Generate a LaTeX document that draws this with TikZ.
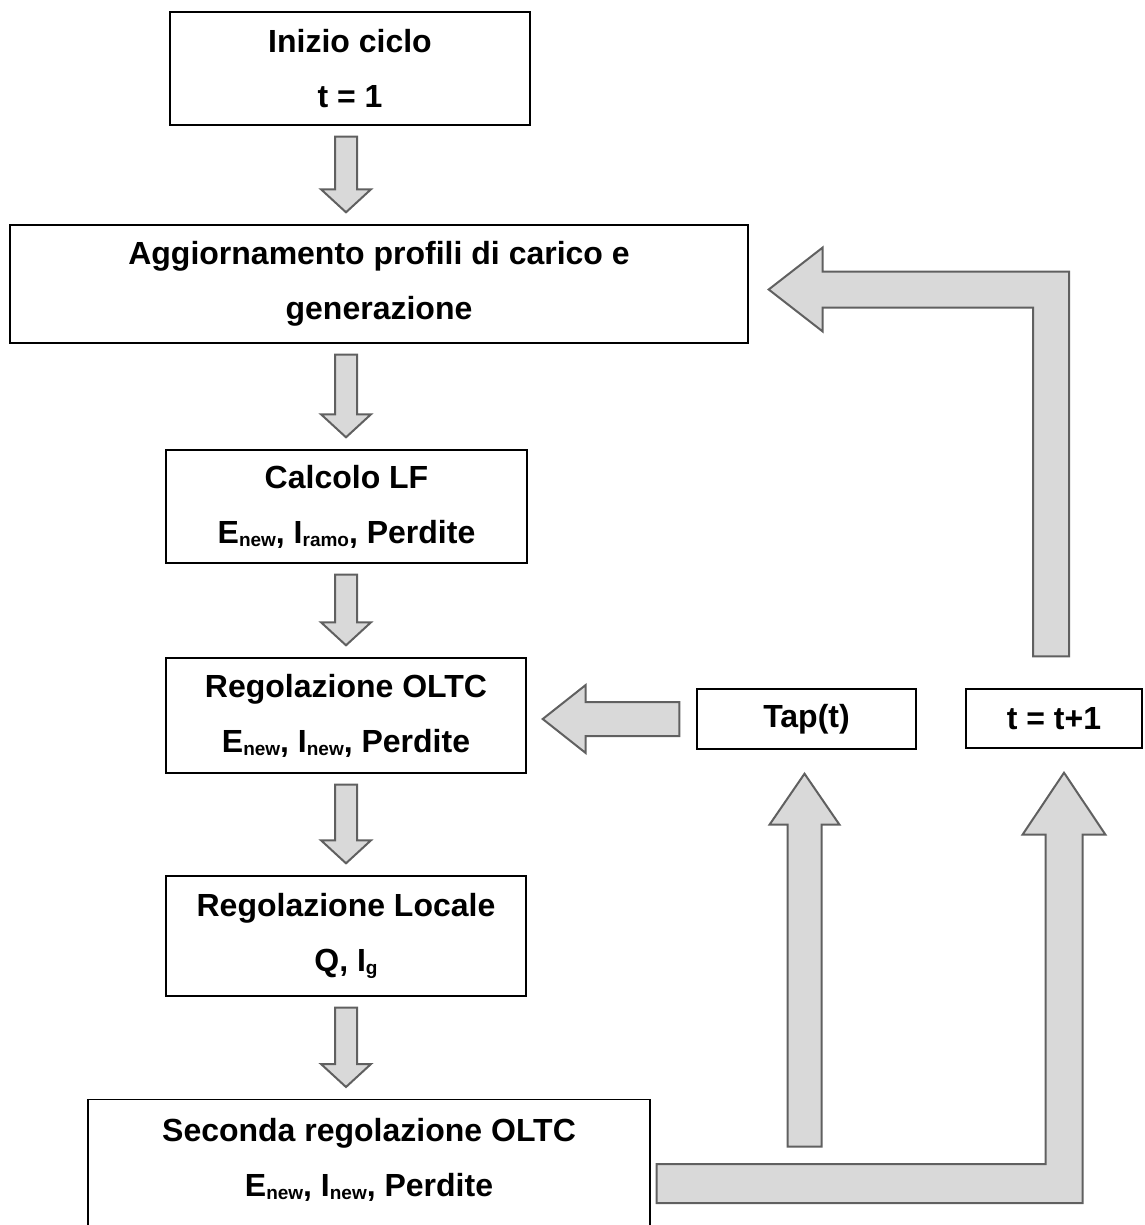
\documentclass[tikz,border=0pt]{standalone}
\usepackage{fontspec}
\setmainfont{Liberation Sans}
\usetikzlibrary{calc}
\definecolor{arrowfill}{RGB}{217,217,217}
\definecolor{arrowline}{RGB}{96,96,96}
% lowered, smaller index text (E_new, I_ramo, ...)
\newcommand\lowtext[1]{\raisebox{-3pt}{\fontsize{19}{19}\selectfont #1}}
% grey block arrow pointing down, between two boxes of the main column
\newcommand\downblock[2]{%
  \coordinate (s) at ($(col|-#1.south)+(0,11)$);
  \coordinate (t) at ($(col|-#2.north)+(0,-12)$);
  \draw[blockarrow] ($(s)+(-11,0)$) -- ($(s)+(11,0)$) -- ($(t)+(11,-23)$)
    -- ($(t)+(25,-23)$) -- (t) -- ($(t)+(-25,-23)$) -- ($(t)+(-11,-23)$) -- cycle;}
\begin{document}
\begin{tikzpicture}[x=1pt,y=-1pt,
  box/.style={draw=black,line width=1.4pt,fill=white,rectangle,inner sep=0pt,
    align=center,font=\fontsize{32}{55}\selectfont\bfseries},
  txt/.style={inner sep=0pt,align=center,font=\fontsize{32}{55}\selectfont\bfseries},
  blockarrow/.style={fill=arrowfill,draw=arrowline,line width=2pt,line join=miter}]
\useasboundingbox (0,0) rectangle (1144,1225);

% main column of steps
\node[box,minimum width=360pt,minimum height=113pt] (b1) at (350,68.5)
  {Inizio ciclo\\t = 1};
\node[box,minimum width=738pt,minimum height=118pt] (b2) at (379,284)
  {Aggiornamento profili di carico e\\generazione};
\node[box,minimum width=361pt,minimum height=113pt] (b3) at (346.5,506.5)
  {Calcolo LF\\E\lowtext{new}, I\lowtext{ramo}, Perdite};
\node[box,minimum width=360pt,minimum height=115pt] (b4) at (346,715.5)
  {Regolazione OLTC\\E\lowtext{new}, I\lowtext{new}, Perdite};
\node[box,minimum width=360pt,minimum height=120pt] (b5) at (346,936)
  {Regolazione Locale\\Q, I\lowtext{g}};
\node[box,minimum width=562pt,minimum height=160pt,anchor=north] (b6) at (369,1099) {};
\node[txt] (b6t) at (369,1159.5)
  {Seconda regolazione OLTC\\E\lowtext{new}, I\lowtext{new}, Perdite};

% side boxes
\node[box,minimum width=219pt,minimum height=60pt] (tap) at (806.5,719) {Tap(t)};
\node[box,minimum width=176pt,minimum height=59pt] (tt) at (1054,718.5) {t = t+1};

% downward flow of the main column
\coordinate (col) at (346,0);
\downblock{b1}{b2}
\downblock{b2}{b3}
\downblock{b3}{b4}
\downblock{b4}{b5}
\downblock{b5}{b6}

% Tap(t) feeds the OLTC regulation
\coordinate (s) at ($(tap.west)+(-17,0)$);
\coordinate (t) at ($(b4.east|-tap.west)+(16,0)$);
\draw[blockarrow] ($(s)+(0,-17)$) -- ($(t)+(43,-17)$) -- ($(t)+(43,-34)$) -- (t)
  -- ($(t)+(43,34)$) -- ($(t)+(43,17)$) -- ($(s)+(0,17)$) -- cycle;

% arrow rising into Tap(t)
\coordinate (t) at ($(tap.south)+(-2,24)$);
\coordinate (tapfoot) at ($(t)+(0,373)$);
\draw[blockarrow] ($(tapfoot)+(-17,0)$) -- ($(t)+(-17,51)$) -- ($(t)+(-35,51)$) -- (t)
  -- ($(t)+(35,51)$) -- ($(t)+(17,51)$) -- ($(tapfoot)+(17,0)$) -- cycle;

% from the second OLTC regulation to t = t+1
\coordinate (s) at ($(b6.north east)+(6,84.5)$);
\coordinate (t) at ($(tt.south)+(10,24)$);
\draw[blockarrow] ($(s)+(0,-19.5)$) -- ($(t|-s)+(-18.5,-19.5)$) -- ($(t)+(-18.5,62)$)
  -- ($(t)+(-41.5,62)$) -- (t) -- ($(t)+(41.5,62)$) -- ($(t)+(18.5,62)$)
  -- ($(t|-s)+(18.5,19.5)$) -- ($(s)+(0,19.5)$) -- cycle;

% loop back from t = t+1 to the profile update
\coordinate (s) at ($(tt.north)+(-3,-32)$);
\coordinate (t) at ($(b2.east)+(20,5.5)$);
\draw[blockarrow] ($(s)+(-18,0)$) -- ($(s)+(18,0)$) -- ($(s|-t)+(18,-18)$)
  -- ($(t)+(54,-18)$) -- ($(t)+(54,-42)$) -- (t) -- ($(t)+(54,42)$)
  -- ($(t)+(54,18)$) -- ($(s|-t)+(-18,18)$) -- cycle;
\end{tikzpicture}
\end{document}
